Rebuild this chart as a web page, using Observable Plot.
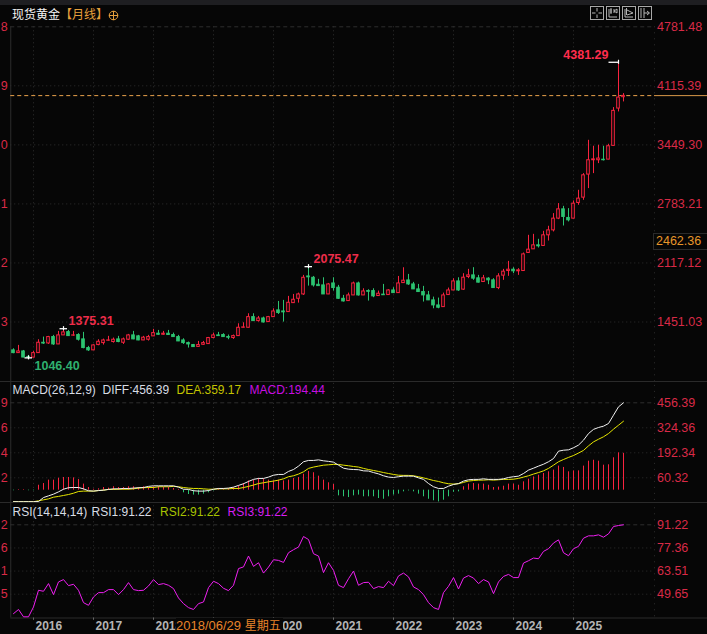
<!DOCTYPE html>
<html lang="zh">
<head>
<meta charset="utf-8">
<script src="https://cdn.jsdelivr.net/npm/d3@7"></script>
<script src="https://cdn.jsdelivr.net/npm/@observablehq/plot@0.6"></script>
<style>
html,body{margin:0;padding:0;background:#060606;}
#page{position:relative;width:707px;height:634px;overflow:hidden;background:#060606;font-family:"Liberation Sans",Arial,"Noto Sans CJK SC",sans-serif;}
#page svg{position:absolute;left:0;background:transparent;overflow:hidden;}
.t{position:absolute;white-space:nowrap;line-height:14px;font-size:12px;}
.band{position:absolute;left:0;top:0;width:707px;height:5px;background:#1e1e21;}
.ic{position:absolute;top:6px;width:12px;height:12px;border:1px solid #a8a8a8;}
.ic svg{position:static;display:block;}
</style>
</head>
<body>
<div id="page"></div>
<script>
// Monthly candles, Sep 2015 to Nov 2025
const opens = [1131,1100,1119,1055,1049,1100,1217,1209,1281,1198,1300,1337,1297,1304,1255,1157,1131,1191,1213,1240,1225,1255,1217,1251,1300,1289,1243,1251,1289,1319,1307,1319,1304,1281,1243,1213,1191,1170,1194,1202,1270,1300,1304,1281,1270,1292,1386,1386,1506,1461,1491,1450,1506,1582,1570,1563,1664,1713,1762,1965,1950,1871,1864,1762,1886,1838,1713,1687,1751,1886,1751,1800,1800,1744,1760,1755,1807,1777,1890,1920,1875,1819,1789,1751,1695,1638,1619,1755,1807,1909,1816,1959,1977,1944,1902,1940,1921,1834,1974,2026,2041,2023,2026,2230,2271,2316,2309,2429,2485,2617,2722,2625,2617,2794,2854,3114,3276,3276,3282,3283,3438,3859,3987];
const highs = [1149,1187,1130,1074,1119,1251,1281,1289,1300,1345,1375.31,1356,1345,1319,1334,1176,1194,1251,1258,1289,1270,1289,1270,1311,1345,1300,1289,1300,1368,1356,1345,1356,1326,1300,1262,1225,1198,1232,1232,1277,1326,1334,1319,1304,1304,1431,1442,1544,1544,1514,1506,1514,1600,1683,1695,1740,1762,1777,1977,2075.47,1965,1932,1950,1886,1950,1864,1751,1777,1901,1901,1826,1815,1826,1800,1875,1815,1838,1965,2063,1988,1898,1875,1853,1796,1732,1721,1777,1834,1939,1950,1996,2045,2064,1977,1977,1951,1940,1996,2045,2135,2064,2053,2229,2429,2440,2384,2474,2531,2674,2787,2756,2730,2817,2937,3125,3501,3434,3445,3434,3456,3870,4381.29,4028];
const lows = [1093,1098,1048,1046.4,1047,1096,1198,1198,1187,1196,1298,1289,1289,1236,1149,1119,1129,1183,1191,1236,1213,1217,1198,1243,1251,1240,1241,1236,1287,1300,1300,1300,1279,1230,1198,1157,1166,1168,1187,1198,1262,1289,1279,1251,1255,1290,1384,1384,1461,1450,1439,1448,1504,1536,1450,1561,1662,1664,1751,1856,1845,1856,1762,1760,1800,1706,1676,1685,1749,1743,1749,1687,1725,1742,1751,1753,1775,1775,1886,1864,1817,1787,1676,1693,1600,1600,1617,1753,1805,1796,1808,1940,1921,1891,1900,1872,1832,1816,1921,1966,1996,1977,2024,2228,2269,2286,2307,2365,2467,2606,2534,2580,2615,2768,2824,2956,3125,3238,3268,3281,3436,3821,3934];
const closes = [1100,1119,1050,1050,1100,1217,1208,1281,1198,1300,1334,1292,1300,1251,1157,1131,1187,1228,1243,1243,1251,1225,1255,1300,1255,1243,1274,1281,1326,1307,1319,1304,1281,1232,1213,1198,1168,1191,1213,1270,1300,1292,1281,1274,1292,1386,1390,1506,1461,1491,1446,1506,1570,1552,1560,1668,1702,1762,1950,1955,1864,1856,1762,1875,1834,1713,1683,1751,1886,1751,1796,1792,1740,1770,1753,1807,1777,1886,1917,1875,1819,1789,1751,1695,1638,1612,1751,1807,1909,1807,1951,1977,1940,1895,1944,1921,1834,1966,2019,2041,2023,2034,2214,2267,2316,2305,2429,2485,2617,2722,2636,2598,2786,2843,3106,3276,3286,3295,3276,3434,3833,3983,4002];

// MACD panel
const diff = [-66,-66,-66,-66,-66,-65,-44,-35,-26,-14,0,8,9,9,2,-8,-10,-7,-5,-1,2,2,4,4,6,8,9,15,18,18,18,18,18,11,0,-1,-8,-10,-10,-7,0,4,4,6,11,20,29,41,52,57,57,64,74,78,78,94,104,122,145,152,152,155,150,147,143,127,111,106,104,103,97,96,88,81,71,64,62,66,69,69,69,60,52,30,13,4,4,16,25,30,43,50,52,52,55,52,52,52,55,62,66,69,83,101,111,122,132,145,162,201,206,208,219,233,259,294,316,326,333,347,391,435,456.39];
const dea = [-66,-66,-66,-66,-66,-61,-56,-51,-42,-38,-33,-28,-21,-12,-10,-10,-10,-7,-5,-1,-1,0,0,0,2,6,8,9,9,13,13,13,15,13,9,6,4,4,2,0,0,2,2,2,4,4,9,15,22,30,34,39,43,48,55,66,71,80,92,110,117,122,127,129,131,131,127,124,120,117,110,104,99,94,88,83,78,74,73,73,71,66,60,53,46,41,34,29,27,29,36,43,46,48,48,50,48,50,52,52,53,57,64,71,80,88,97,110,127,145,157,168,178,191,205,229,250,264,277,294,317,338,359.17];
const macdBars = [-3,3,3,-3,-3,26,35,53,53,63,67,67,65,56,32,14,5,7,14,11,18,14,14,18,18,14,18,14,18,18,14,14,9,4,-14,-23,-26,-26,-21,-14,-4,9,7,9,14,21,35,49,53,62,58,53,49,53,49,53,62,67,84,99,92,74,53,39,30,-30,-35,-39,-30,-26,-35,-35,-35,-44,-48,-35,-26,-21,-9,-4,-9,-21,-35,-48,-56,-62,-53,-35,-11,-9,18,32,35,32,32,26,14,16,21,32,32,26,44,58,70,79,88,97,106,127,120,97,102,102,127,153,158,153,132,134,171,197,194.44];
const macdBase = -5;

// RSI panel
const rsi = [38,40.5,36.1,36.1,42,52,51.4,56,49.4,57,58.4,54.8,55.6,52,44.6,43,48,50.6,50.6,52.4,52.4,49.4,52.4,56.6,52.4,51.8,52,54.6,58.4,55.4,56,55,53,47.4,44,41.6,40.5,44,45,53.6,57.4,56,53.2,51.8,55,65,66,72.5,66.3,68.5,62.3,65.9,70.3,69.9,68.7,74.5,76.3,77.9,84.2,82.4,73.9,72.5,62.6,68.5,63.9,55,53.6,58.9,63.5,55,56.6,56.8,53,54.2,53.6,57.4,54.8,60.6,62.3,60,54,52.4,49.4,44.6,41.6,40.5,50.6,54.4,59.6,52.8,59.3,60.8,59.3,56,58.4,57,50,57,60.3,61.5,59.6,59.6,68.3,69.7,71.3,70.9,75.3,76.9,80.3,82.2,74.5,72.7,76.9,78.3,83.2,84.6,84.6,85.2,83.8,85.8,90.2,90.8,91.22];

// Axis labels
const priceTicks = ["4781.48","4115.39","3449.30","2783.21","2117.12","1451.03"];
const macdTicks = ["456.39","324.36","192.34","60.32"];
const rsiTicks = ["91.22","77.36","63.51","49.65"];
const yearLabels = ["2016","2017","2018","2019","2020","2021","2022","2023","2024","2025"];
const yearStartIndex = [4,16,28,40,52,64,76,88,100,112];
const lastPrice = 4005;
const extremes = [
  {i:121,price:4381.29,label:"4381.29",color:"#ff2d4d",anchor:"end",dx:-10,dy:-7.5,from:-1.9,to:0.15},
  {i:59,price:2075.47,label:"2075.47",color:"#ee2d4a",anchor:"start",dx:5,dy:-8,from:-0.7,to:0.8},
  {i:10,price:1375.31,label:"1375.31",color:"#ee2d4a",anchor:"start",dx:5,dy:-7.5,from:-0.7,to:0.8},
  {i:3,price:1046.4,label:"1046.40",color:"#2fb06f",anchor:"start",dx:6,dy:8,from:-0.7,to:0.8}
];

const RED = "#f9233f", GREEN = "#2cc371", BG = "#060606", GRID = "#2e2e2e", LABEL = "#d92a46";
const FONT = '"Liberation Sans",Arial,"Noto Sans CJK SC",sans-serif';
const idx = closes.map((_, i) => i);
const candles = idx.map(i => ({i, o: opens[i], h: highs[i], l: lows[i], c: closes[i]}));
const W = 707, xDomain = [0,122], xRange = [13,623];
const AXIS_LEFT = -0.55, AXIS_RIGHT = 128.2;
const page = document.getElementById("page");

function gridMarks(ticks, yTop, yBottom) {
  const vals = ticks.map(Number);
  return [
    Plot.ruleX(yearStartIndex, {y1: yTop, y2: yBottom, stroke: GRID, strokeDasharray: "1 3"}),
    Plot.ruleX([AXIS_RIGHT], {y1: yTop, y2: yBottom, stroke: GRID, strokeDasharray: "1 5"}),
    Plot.ruleX([AXIS_LEFT], {y1: yTop, y2: yBottom, stroke: "#2c2c2c"}),
    Plot.ruleY(vals.slice(1), {x1: AXIS_LEFT, x2: AXIS_RIGHT, stroke: GRID, strokeDasharray: "1 3"}),
    Plot.ruleY(vals.slice(0,1), {x1: AXIS_LEFT, x2: AXIS_RIGHT, stroke: GRID, strokeDasharray: "4 3"})
  ];
}
function labelMarks(ticks) {
  const rows = ticks.map(t => ({v: Number(t), t}));
  return [
    Plot.text(rows, {x: () => 128.7, y: "v", text: "t", textAnchor: "start", fill: LABEL, fontSize: 12.5}),
    Plot.text(rows, {x: () => -1.15, y: "v", text: d => d.t.slice(-1), textAnchor: "end", fill: LABEL, fontSize: 12.5})
  ];
}
function place(svg, top) { svg.style.top = top + "px"; page.appendChild(svg); }

// Price panel
const pricePlot = Plot.plot({
  width: W, height: 381, margin: 0, style: {background: "transparent", fontFamily: FONT},
  x: {domain: xDomain, range: xRange, axis: null},
  y: {domain: [1451.03,4781.48], range: [321.5,26.3], axis: null},
  marks: [
    ...gridMarks(priceTicks, 4781.48, 770),
    Plot.ruleY([lastPrice], {x1: AXIS_LEFT, x2: AXIS_RIGHT, stroke: "#eaa24c", strokeDasharray: "4 3"}),
    Plot.ruleY([lastPrice], {x1: AXIS_RIGHT, x2: 140, stroke: "#d9984a"}),
    Plot.ruleX(candles, {x: "i", y1: "l", y2: "h", stroke: d => d.c >= d.o ? RED : GREEN, strokeWidth: 1}),
    Plot.rect(candles, {
      x1: d => d.i - 0.26, x2: d => d.i + 0.26,
      y1: d => Math.min(d.o, d.c), y2: d => Math.max(d.o, d.c),
      fill: d => d.c >= d.o ? BG : GREEN,
      stroke: d => d.c >= d.o ? RED : GREEN, strokeWidth: 1
    }),
    Plot.ruleY(extremes, {y: "price", x1: d => d.i + d.from, x2: d => d.i + d.to, stroke: "#fff", strokeWidth: 1.3}),
    Plot.ruleX(extremes, {x: "i", y1: d => d.price - 23, y2: d => d.price + 23, stroke: "#fff", strokeWidth: 1.2}),
    ...extremes.map(e => Plot.text([e], {x: "i", y: "price", text: "label", fill: e.color, textAnchor: e.anchor, dx: e.dx, dy: e.dy, fontSize: 12.5, fontWeight: "bold"})),
    ...labelMarks(priceTicks)
  ]
});
place(pricePlot, 0);

// MACD panel
const macdPlot = Plot.plot({
  width: W, height: 121, margin: 0, style: {background: "transparent", fontFamily: FONT},
  x: {domain: xDomain, range: xRange, axis: null},
  y: {domain: [60.32,456.39], range: [96.3,21.3], axis: null},
  marks: [
    ...gridMarks(macdTicks, 580, -115),
    Plot.ruleX(idx, {x: i => i, y1: () => macdBase, y2: i => macdBase + macdBars[i], stroke: i => macdBars[i] >= 0 ? RED : GREEN, strokeWidth: 1}),
    Plot.line(idx, {x: i => i, y: i => dea[i], stroke: "#e6e600", strokeWidth: 1, curve: "linear"}),
    Plot.line(idx, {x: i => i, y: i => diff[i], stroke: "#f2f2f2", strokeWidth: 1, curve: "linear"}),
    ...labelMarks(macdTicks)
  ]
});
place(macdPlot, 381);

// RSI panel
const rsiBottom = 35.4;
const rsiPlot = Plot.plot({
  width: W, height: 132, margin: 0, style: {background: "transparent", fontFamily: FONT},
  x: {domain: xDomain, range: xRange, axis: null},
  y: {domain: [49.65,91.22], range: [91.7,22.3], axis: null},
  marks: [
    ...gridMarks(rsiTicks, 105, rsiBottom),
    Plot.ruleY([rsiBottom], {x1: AXIS_LEFT, x2: 140, stroke: "#2c2c2c"}),
    Plot.ruleX(yearStartIndex, {y1: rsiBottom, y2: 34, stroke: "#666"}),
    Plot.line(idx, {x: i => i, y: i => rsi[i], stroke: "#ee1ff0", strokeWidth: 1, curve: "linear"}),
    Plot.text(yearLabels, {x: (d, k) => yearStartIndex[k], y: () => 30.7, text: d => d, textAnchor: "start", dx: 2, fill: "#b4b4b4", fontSize: 12, fontWeight: "bold"}),
    ...labelMarks(rsiTicks)
  ]
});
place(rsiPlot, 502);

// Text and chrome
function addHTML(html) { page.insertAdjacentHTML("beforeend", html); }
function addText(left, top, text, color, extra = "") {
  addHTML(`<div class="t" style="left:${left}px;top:${top}px;color:${color};${extra}">${text}</div>`);
}
addHTML('<div class="band"></div>');
const rule = (t) => addHTML(`<div style="position:absolute;left:0;width:707px;top:${t}px;height:1px;background:#2a2a2a"></div>`);
[381,502].forEach(rule);

addText(12, 8, "现货黄金", "#f4f4f4");
addText(60, 8, "【月线】", "#e6a03c");
addHTML('<svg style="left:108px;top:10px" width="11" height="11" viewBox="0 0 11 11" fill="none" stroke="#e6a03c"><circle cx="5.5" cy="5.5" r="4.3"/><path d="M1 5.5H10M5.5 1V10"/></svg>');

addText(12.5, 383, "MACD(26,12,9)", "#d8dde4");
addText(102.5, 383, "DIFF:456.39", "#d8dde4");
addText(176.5, 383, "DEA:359.17", "#c4c400");
addText(249.5, 383, "MACD:194.44", "#c60fe0");

addText(12.5, 505, "RSI(14,14,14)", "#d8dde4");
addText(91.5, 505, "RSI1:91.22", "#d8dde4");
addText(160, 505, "RSI2:91.22", "#a8c400");
addText(227.5, 505, "RSI3:91.22", "#d51ff0");

addHTML(`<div class="t" style="left:176px;top:618px;width:107px;height:15px;background:${BG};color:#e8832a;font-size:13px;line-height:15px;">2018/06/29 <span style="font-size:12px">星期五</span></div>`);
addHTML(`<div class="t" style="left:653px;top:233px;width:60px;height:15px;border:1px solid #2a2a2a;background:${BG};color:#e8962a;font-size:12.5px;line-height:15px;padding-left:2px;">2462.36</div>`);

const icons = [
  "M6 1V4.5M6 7.5V11M1 6H4.5M7.5 6H11",
  "M2 2V10H10M4 1V7M3 3H5M3 5H5M7 2V6M7 4L10 2V6L7 4",
  "M2 2V10H10M3.5 1V8M4 3L10 6L4 8",
  "M2 1V11M5 1V11M5 6H10M8 4L10.5 6L8 8"
];
[591,607,623,639].forEach((left, k) => {
  addHTML(`<div class="ic" style="left:${left - 1}px"><svg width="12" height="12" viewBox="0 0 12 12" fill="none" stroke="#b5b5b5">`
    + `<path d="${icons[k]}"/></svg></div>`);
});
</script>
</body>
</html>
